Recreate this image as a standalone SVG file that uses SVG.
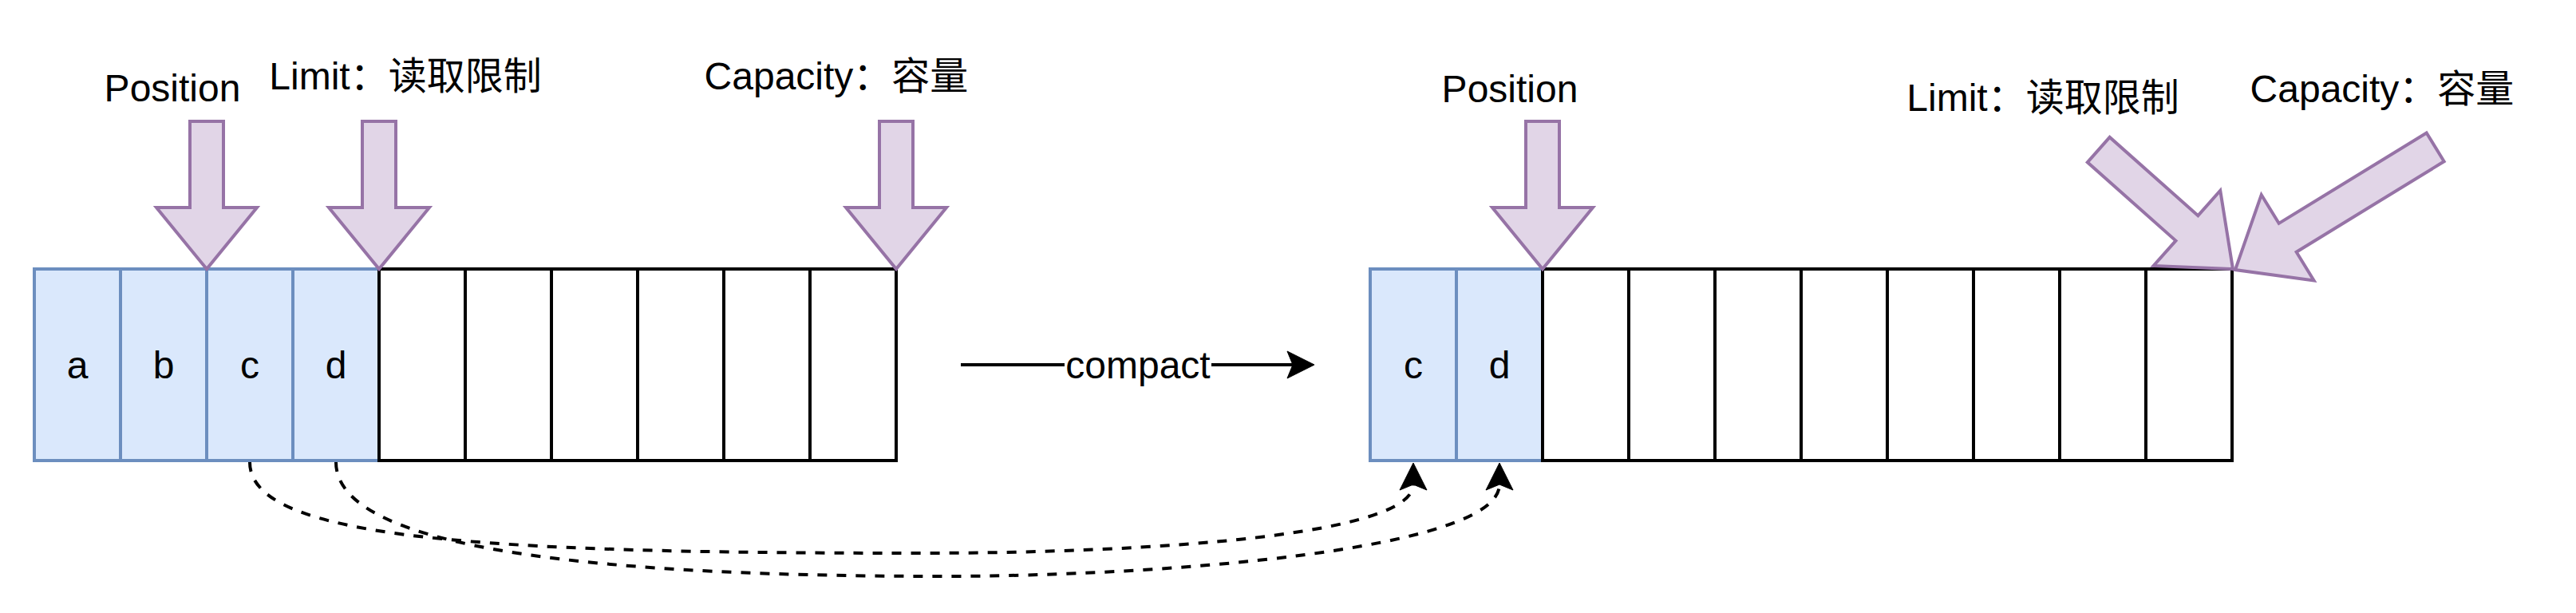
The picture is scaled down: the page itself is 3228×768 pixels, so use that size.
<svg xmlns="http://www.w3.org/2000/svg" width="3228" height="768" viewBox="0 0 3228 768">
<style>
.blue{fill:#dae8fc;stroke:#6c8ebf;stroke-width:4}
.white{fill:#ffffff;stroke:#000000;stroke-width:4}
.parr{fill:#e1d5e7;stroke:#9673a6;stroke-width:4;stroke-linejoin:miter}
.t{font-family:"Liberation Sans","Noto Sans CJK SC",Arial,sans-serif;font-size:48px;fill:#000;text-anchor:middle}
.dash{fill:none;stroke:#000;stroke-width:4;stroke-dasharray:12 12}
.solid{fill:none;stroke:#000;stroke-width:4}
</style>
<defs>
<marker id="ah" markerUnits="userSpaceOnUse" viewBox="0 0 36 36" markerWidth="36" markerHeight="36" refX="8" refY="18" orient="auto">
<path d="M35,18 L1,1 L8,18 L1,35 Z" fill="#000" stroke="#000" stroke-width="1"/>
</marker>
<polygon id="down185" points="-21,-185 21,-185 21,-77 63,-77 0,0 -63,-77 -21,-77"/>
<polygon id="down225" points="-21,-225 21,-225 21,-77 63,-77 0,0 -63,-77 -21,-77"/>
<polygon id="down294" points="-21,-294 21,-294 21,-77 63,-77 0,0 -63,-77 -21,-77"/>
</defs>
<rect width="3228" height="768" fill="#ffffff"/>

<g id="buffer-left">
<g id="cell-a"><rect class="blue" x="43" y="337" width="108" height="240"/><text class="t" x="97" y="474">a</text></g>
<g id="cell-b"><rect class="blue" x="151" y="337" width="108" height="240"/><text class="t" x="205" y="474">b</text></g>
<g id="cell-c"><rect class="blue" x="259" y="337" width="108" height="240"/><text class="t" x="313" y="474">c</text></g>
<g id="cell-d"><rect class="blue" x="367" y="337" width="108" height="240"/><text class="t" x="421" y="474">d</text></g>
<g id="cell-l5"><rect class="white" x="475" y="337" width="108" height="240"/></g>
<g id="cell-l6"><rect class="white" x="583" y="337" width="108" height="240"/></g>
<g id="cell-l7"><rect class="white" x="691" y="337" width="108" height="240"/></g>
<g id="cell-l8"><rect class="white" x="799" y="337" width="108" height="240"/></g>
<g id="cell-l9"><rect class="white" x="907" y="337" width="108" height="240"/></g>
<g id="cell-l10"><rect class="white" x="1015" y="337" width="108" height="240"/></g>
</g>

<g id="buffer-right">
<g id="cell-c2"><rect class="blue" x="1717" y="337" width="108" height="240"/><text class="t" x="1771" y="474">c</text></g>
<g id="cell-d2"><rect class="blue" x="1825" y="337" width="108" height="240"/><text class="t" x="1879" y="474">d</text></g>
<g id="cell-r3"><rect class="white" x="1933" y="337" width="108" height="240"/></g>
<g id="cell-r4"><rect class="white" x="2041" y="337" width="108" height="240"/></g>
<g id="cell-r5"><rect class="white" x="2149" y="337" width="108" height="240"/></g>
<g id="cell-r6"><rect class="white" x="2257" y="337" width="108" height="240"/></g>
<g id="cell-r7"><rect class="white" x="2365" y="337" width="108" height="240"/></g>
<g id="cell-r8"><rect class="white" x="2473" y="337" width="108" height="240"/></g>
<g id="cell-r9"><rect class="white" x="2581" y="337" width="108" height="240"/></g>
<g id="cell-r10"><rect class="white" x="2689" y="337" width="108" height="240"/></g>
</g>

<g id="position-left"><use href="#down185" class="parr" transform="translate(259,337)"/><text class="t" x="216" y="127">Position</text></g>
<g id="limit-left"><use href="#down185" class="parr" transform="translate(475,337)"/><text class="t" x="508" y="112">Limit：读取限制</text></g>
<g id="capacity-left"><use href="#down185" class="parr" transform="translate(1123,337)"/><text class="t" x="1048" y="112">Capacity：容量</text></g>

<g id="position-right"><use href="#down185" class="parr" transform="translate(1933,337)"/><text class="t" x="1892" y="128">Position</text></g>
<g id="limit-right"><use href="#down225" class="parr" transform="translate(2798,337) rotate(-48.4)"/><text class="t" x="2560" y="139">Limit：读取限制</text></g>
<g id="capacity-right"><use href="#down294" class="parr" transform="translate(2801,338) rotate(58.5)"/><text class="t" x="2985" y="128">Capacity：容量</text></g>

<g id="connectors">
<g id="edge-compact">
<path class="solid" d="M1204,457 L1620,457" marker-end="url(#ah)"/>
<rect x="1334" y="430" width="184" height="56" fill="#ffffff"/>
<text class="t" x="1426" y="474">compact</text>
</g>
<path id="edge-c" class="dash" d="M313,579 C313,675 600,693 1150,693 C1450,693 1771,670 1771,607" marker-end="url(#ah)"/>
<path id="edge-d" class="dash" d="M421,579 C421,680 700,722 1180,722 C1450,722 1879,690 1879,607" marker-end="url(#ah)"/>
</g>
</svg>
